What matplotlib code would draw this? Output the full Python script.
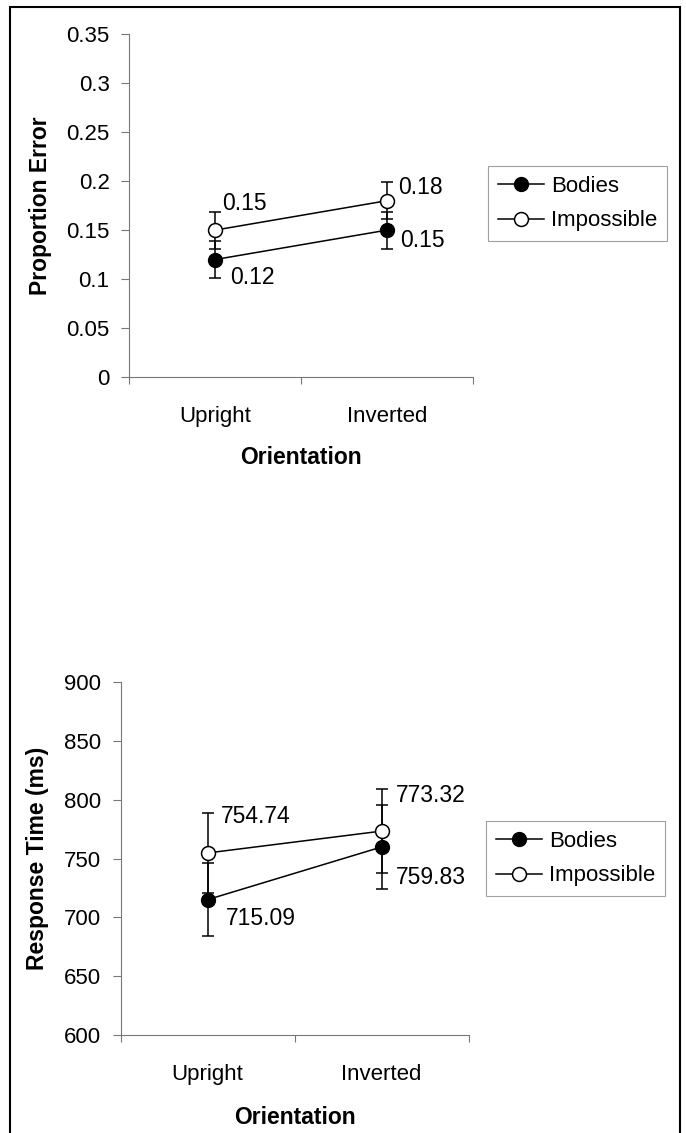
import matplotlib
matplotlib.use("Agg")
import matplotlib.pyplot as plt
from matplotlib.patches import Rectangle

plt.rcParams["font.family"] = ["Liberation Sans", "DejaVu Sans"]

orientation = ["Upright", "Inverted"]
series = ["Bodies", "Impossible"]

err_bodies = [0.12, 0.15]
err_impossible = [0.15, 0.18]
err_bodies_ci = [0.019, 0.019]
err_impossible_ci = [0.019, 0.019]
err_labels_bodies = ["0.12", "0.15"]
err_labels_impossible = ["0.15", "0.18"]

rt_bodies = [715.09, 759.83]
rt_impossible = [754.74, 773.32]
rt_bodies_ci = [31, 36]
rt_impossible_ci = [34, 36]
rt_labels_bodies = ["715.09", "759.83"]
rt_labels_impossible = ["754.74", "773.32"]

FS = 16


def draw_panel(ax, bodies, impossible, b_ci, i_ci, b_lab, i_lab,
               ylim, yticks, ytick_labels, ylabel, ylabel_x, offs, leg_anchor):
    x = list(range(len(orientation)))
    ax.errorbar(x, bodies, yerr=b_ci, color="black", lw=1.1, capsize=4.5,
                capthick=1.1, elinewidth=1.1, marker="o", ms=10,
                mfc="black", mec="black", label=series[0], zorder=3)
    ax.errorbar(x, impossible, yerr=i_ci, color="black", lw=1.1, capsize=4.5,
                capthick=1.1, elinewidth=1.1, marker="o", ms=10,
                mfc="white", mec="black", mew=1.1, label=series[1], zorder=4)
    for i in x:
        ax.annotate(i_lab[i], (i, impossible[i]), xytext=offs[0][i],
                    textcoords="offset pixels", ha="left", va="center", fontsize=16.5)
        ax.annotate(b_lab[i], (i, bodies[i]), xytext=offs[1][i],
                    textcoords="offset pixels", ha="left", va="center", fontsize=16.5)

    ax.set_xlim(-0.5, 1.5)
    ax.set_ylim(*ylim)
    ax.set_yticks(yticks)
    ax.set_yticklabels(ytick_labels)
    ax.set_xticks([-0.5, 0.5, 1.5])
    ax.set_xticklabels([])
    ax.set_xticks(x, minor=True)
    ax.set_xticklabels(orientation, minor=True)
    ax.tick_params(axis="x", which="major", length=5, width=0.8, color="#777777")
    ax.tick_params(axis="x", which="minor", length=0, pad=21, labelsize=FS)
    ax.tick_params(axis="y", length=6, width=0.8, color="#777777", pad=8, labelsize=FS)
    for s in ["top", "right"]:
        ax.spines[s].set_visible(False)
    for s in ["left", "bottom"]:
        ax.spines[s].set_color("#777777")
        ax.spines[s].set_linewidth(0.8)
    ax.set_xlabel("Orientation", fontsize=16.5, fontweight="bold")
    ax.xaxis.set_label_coords(0.5, -0.2)
    ax.set_ylabel(ylabel, fontsize=16.5, fontweight="bold")
    ax.yaxis.set_label_coords(ylabel_x, 0.5)

    handles, labels = ax.get_legend_handles_labels()
    handles = [h[0] for h in handles]
    leg = ax.legend(handles, labels, loc="upper left", bbox_to_anchor=leg_anchor,
                    bbox_transform=ax.figure.transFigure, fontsize=FS,
                    frameon=True, fancybox=False, edgecolor="#888888",
                    handlelength=2.1, handletextpad=0.3, borderpad=0.45,
                    labelspacing=0.6, borderaxespad=0)
    leg.get_frame().set_linewidth(0.8)


fig = plt.figure(figsize=(6.86, 11.33), dpi=100)

ax1 = fig.add_axes([0.188, 0.667, 0.501, 0.303])
draw_panel(ax1, err_bodies, err_impossible, err_bodies_ci, err_impossible_ci,
           err_labels_bodies, err_labels_impossible,
           (0, 0.35), [0, 0.05, 0.1, 0.15, 0.2, 0.25, 0.3, 0.35],
           ["0", "0.05", "0.1", "0.15", "0.2", "0.25", "0.3", "0.35"],
           "Proportion Error", -0.224,
           [[(7, 27), (11, 13)], [(15, -18), (13, -10)]],
           (0.711, 0.8535))

ax2 = fig.add_axes([0.176, 0.0865, 0.507, 0.3115])
draw_panel(ax2, rt_bodies, rt_impossible, rt_bodies_ci, rt_impossible_ci,
           rt_labels_bodies, rt_labels_impossible,
           (600, 900), [600, 650, 700, 750, 800, 850, 900],
           ["600", "650", "700", "750", "800", "850", "900"],
           "Response Time (ms)", -0.205,
           [[(13, 36), (14, 36)], [(18, -19), (14, -31)]],
           (0.708, 0.2754))

# outer frame
fig.patches.append(Rectangle((0.0146, -0.01), 0.9767, 1.0038, transform=fig.transFigure,
                             fill=False, edgecolor="black", linewidth=1.5))

fig.savefig("out.png", dpi=100)
